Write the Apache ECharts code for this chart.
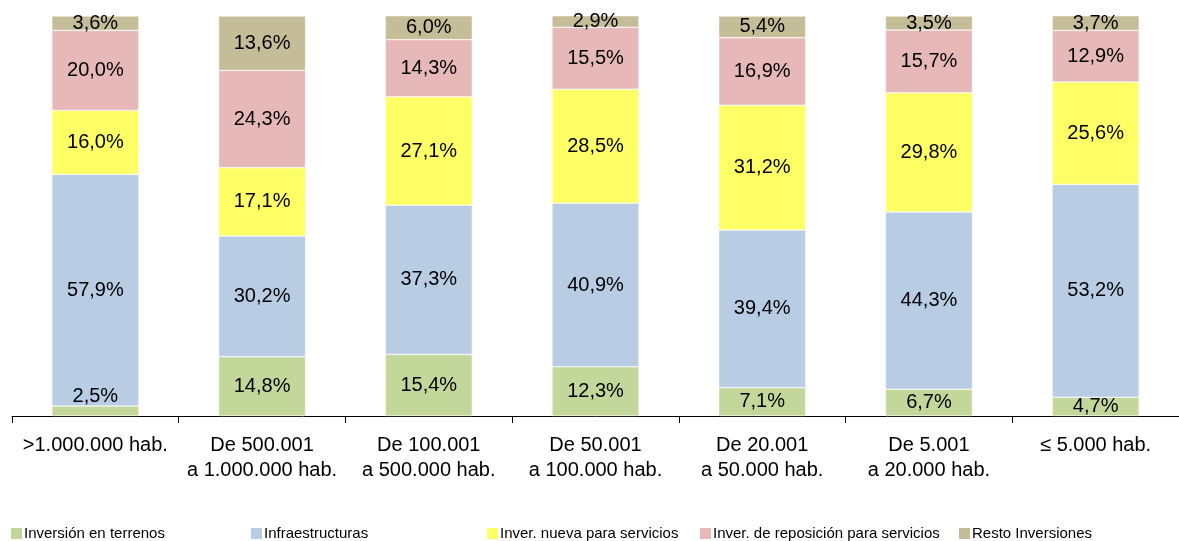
<!DOCTYPE html>
<html>
<head>
<meta charset="utf-8">
<script src="https://cdn.jsdelivr.net/npm/echarts@6/dist/echarts.min.js"></script>
<style>
  html, body { margin: 0; padding: 0; background: #fff; }
  #chart { width: 1179px; height: 541px; }
</style>
</head>
<body>
<div id="chart"></div>
<script>
// categorías de municipios por tamaño
const categories = [
  ">1.000.000 hab.",
  "De 500.001\na 1.000.000 hab.",
  "De 100.001\na 500.000 hab.",
  "De 50.001\na 100.000 hab.",
  "De 20.001\na 50.000 hab.",
  "De 5.001\na 20.000 hab.",
  "≤ 5.000 hab.",
];
const seriesNames = [
  "Inversión en terrenos",
  "Infraestructuras",
  "Inver. nueva para servicios",
  "Inver. de reposición para servicios",
  "Resto Inversiones",
];
const terrenos = [2.5, 14.8, 15.4, 12.3, 7.1, 6.7, 4.7];
const infraestructuras = [57.9, 30.2, 37.3, 40.9, 39.4, 44.3, 53.2];
const nuevaServicios = [16.0, 17.1, 27.1, 28.5, 31.2, 29.8, 25.6];
const reposicion = [20.0, 24.3, 14.3, 15.5, 16.9, 15.7, 12.9];
const resto = [3.6, 13.6, 6.0, 2.9, 5.4, 3.5, 3.7];

const colors = ["#C4D79B", "#B8CCE4", "#FFFF66", "#E6B9B8", "#C4BD97"];
const allData = [terrenos, infraestructuras, nuevaServicios, reposicion, resto];
const font = "Liberation Sans, Arial, sans-serif";

const chart = echarts.init(document.getElementById("chart"));

const fmt = (v) => v.toFixed(1).replace(".", ",") + "%";

const series = allData.map((vals, i) => ({
  name: seriesNames[i],
  type: "bar",
  stack: "total",
  barWidth: 87,
  itemStyle: { color: colors[i], borderColor: "#fff", borderWidth: 0.5 },
  label: {
    show: true,
    position: "inside",
    color: "#000",
    fontSize: 20,
    fontFamily: font,
    formatter: (p) => fmt(p.value),
  },
  data: vals.map((v) => {
    // la etiqueta del 2,5% queda encima del segmento
    if (i === 0 && v < 3) {
      return { value: v, label: { position: "top", distance: 0 } };
    }
    return v;
  }),
}));

// leyendas separadas para fijar la posición de cada elemento
const legendLeft = [6, 246, 482, 695, 954];
const legends = seriesNames.map((n, i) => ({
  data: [n],
  left: legendLeft[i],
  top: 521,
  itemWidth: 11,
  itemHeight: 11,
  icon: "rect",
  itemStyle: { borderWidth: 0 },
  textStyle: {
    fontSize: 15,
    color: "#000",
    fontFamily: font,
    padding: [0, 0, 0, -3],
  },
}));

chart.setOption({
  animation: false,
  legend: legends,
  grid: { left: 12, right: 0, top: 16, bottom: 125 },
  xAxis: {
    type: "category",
    data: categories,
    axisLine: { lineStyle: { color: "#000", width: 1 } },
    axisTick: { show: true, interval: 0, length: 7, lineStyle: { color: "#000" } },
    axisLabel: {
      interval: 0,
      color: "#000",
      fontSize: 20,
      lineHeight: 25,
      margin: 17,
      fontFamily: font,
    },
  },
  yAxis: {
    type: "value",
    min: 0,
    max: 100,
    show: false,
    splitLine: { show: false },
  },
  series: series,
});
</script>
</body>
</html>
